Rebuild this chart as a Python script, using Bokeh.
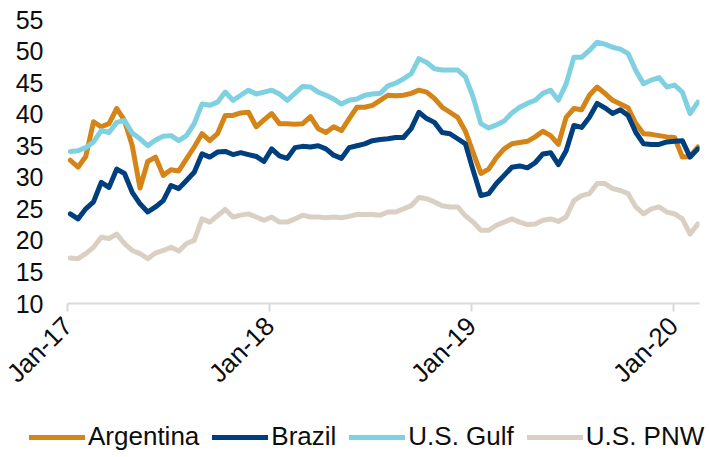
import math
import pandas as pd
from bokeh.plotting import figure
from bokeh.models import Legend, LegendItem, FixedTicker, DatetimeTickFormatter, Range1d
from bokeh.embed import file_html
from bokeh.resources import INLINE

# Biweekly observations (USD/t), Jan 2017 - Feb 2020
dates = pd.date_range("2017-01-06", periods=82, freq="14D")

argentina = [32.7, 31.6, 33.3, 38.8, 38.0, 38.5, 40.9, 39.0, 35.0, 28.3,
             32.5, 33.2, 30.3, 31.2, 31.0, 32.9, 34.8, 36.9, 35.8, 36.9,
             39.8, 39.8, 40.2, 40.3, 38.0, 39.1, 40.1, 38.5, 38.5, 38.4,
             38.5, 39.6, 37.7, 37.1, 38.0, 37.4, 39.3, 41.1, 41.1, 41.4,
             42.2, 43.0, 42.9, 43.0, 43.3, 43.8, 43.5, 42.5, 41.1, 40.3,
             39.5, 37.3, 33.9, 30.6, 31.3, 33.1, 34.5, 35.3, 35.5, 35.7,
             36.4, 37.3, 36.6, 35.2, 39.5, 40.9, 40.7, 43.0, 44.3, 43.3,
             42.2, 41.6, 41.0, 38.5, 36.9, 36.8, 36.6, 36.4, 36.3, 33.2,
             33.3, 34.8]

brazil = [24.2, 23.4, 25.0, 26.1, 29.2, 28.4, 31.3, 30.6, 27.6, 25.8,
          24.5, 25.3, 26.3, 28.7, 28.2, 29.5, 30.8, 33.7, 33.2, 34.0,
          34.1, 33.6, 33.9, 33.6, 33.3, 32.5, 34.5, 33.4, 33.0, 34.7,
          34.9, 34.8, 35.0, 34.5, 33.5, 33.0, 34.7, 35.0, 35.3, 35.8,
          36.0, 36.1, 36.3, 36.3, 37.7, 40.3, 39.3, 38.7, 37.1, 36.9,
          36.1, 35.3, 31.1, 27.1, 27.4, 29.0, 30.3, 31.6, 31.8, 31.5,
          32.3, 33.7, 33.9, 32.0, 34.2, 38.2, 37.9, 39.5, 41.7, 41.0,
          40.1, 40.7, 39.8, 37.1, 35.3, 35.2, 35.2, 35.6, 35.7, 35.8,
          33.2, 34.5]

us_gulf = [34.1, 34.2, 34.7, 35.6, 37.4, 37.1, 38.7, 39.0, 37.0, 36.1,
           35.0, 35.9, 36.5, 36.6, 35.8, 36.6, 38.5, 41.6, 41.4, 41.9,
           43.5, 42.2, 43.0, 43.8, 43.2, 43.5, 43.8, 43.2, 42.2, 43.3,
           44.4, 44.3, 43.5, 43.0, 42.4, 41.6, 42.2, 42.4, 43.0, 43.2,
           43.3, 44.5, 44.9, 45.6, 46.4, 48.8, 48.2, 47.2, 47.0, 47.0,
           47.0, 45.9, 42.7, 38.5, 37.8, 38.3, 38.9, 40.2, 41.1, 41.7,
           42.2, 43.3, 43.8, 42.2, 44.8, 49.0, 49.0, 50.1, 51.4, 51.1,
           50.6, 50.3, 49.6, 46.9, 44.8, 45.4, 45.8, 44.3, 44.6, 43.5,
           40.1, 41.9]

us_pnw = [17.2, 17.1, 17.9, 18.9, 20.5, 20.3, 21.0, 19.5, 18.4, 17.9,
          17.1, 18.0, 18.4, 18.9, 18.3, 19.5, 20.0, 23.4, 22.9, 23.9,
          24.9, 23.7, 24.0, 24.2, 23.7, 23.2, 23.7, 22.9, 22.9, 23.4,
          24.0, 23.7, 23.7, 23.6, 23.7, 23.6, 23.8, 24.1, 24.1, 24.1,
          24.0, 24.5, 24.5, 25.0, 25.5, 26.8, 26.6, 26.1, 25.5, 25.3,
          25.3, 23.9, 22.9, 21.6, 21.6, 22.4, 22.9, 23.4, 22.9, 22.5,
          22.6, 23.2, 23.4, 23.0, 23.7, 26.3, 27.1, 27.4, 29.0, 29.0,
          28.2, 27.9, 27.4, 25.3, 24.2, 25.0, 25.3, 24.5, 24.2, 23.4,
          21.0, 22.6]

series_names = ["Argentina", "Brazil", "U.S. Gulf", "U.S. PNW"]
series_colors = ["#D58418", "#003F7D", "#7FD0E0", "#D9D0C3"]
series_values = [argentina, brazil, us_gulf, us_pnw]

y_ticks = [10, 15, 20, 25, 30, 35, 40, 45, 50, 55]
x_tick_dates = ["2017-01-01", "2018-01-01", "2019-01-01", "2020-01-01"]

FONT = "Liberation Sans"
TEXT_COLOR = "#0d0d0d"
LINE_W = 5
X_START, X_END = pd.Timestamp("2017-01-01"), pd.Timestamp("2020-02-17")

p = figure(x_axis_type="datetime",
           frame_width=632, frame_height=284,
           min_border_left=67, min_border_right=6,
           min_border_top=19, min_border_bottom=112,
           x_range=Range1d(X_START, X_END),
           y_range=Range1d(10, 55),
           output_backend="svg", toolbar_location=None)

p.outline_line_color = None
p.xgrid.visible = False
p.ygrid.visible = False

for vals, color in zip(series_values, series_colors):
    p.line(dates, vals, line_color=color, line_width=LINE_W,
           line_join="round", line_cap="round")

# y axis
p.yaxis.ticker = FixedTicker(ticks=y_ticks)
p.yaxis.axis_line_color = None
p.yaxis.major_tick_line_color = None
p.yaxis.minor_tick_line_color = None
p.yaxis.major_tick_out = 0
p.yaxis.major_tick_in = 0
p.yaxis.major_label_standoff = 24
p.yaxis.major_label_text_font = FONT
p.yaxis.major_label_text_font_size = "25px"
p.yaxis.major_label_text_color = TEXT_COLOR

# x axis
fmt = "%b-%y"
p.xaxis.ticker = FixedTicker(ticks=[pd.Timestamp(d).timestamp() * 1000 for d in x_tick_dates])
p.xaxis.formatter = DatetimeTickFormatter(years=fmt, months=fmt, days=fmt, hours=fmt,
                                          minutes=fmt, seconds=fmt, milliseconds=fmt,
                                          microseconds=fmt, minsec=fmt, hourmin=fmt)
p.xaxis.axis_line_color = "#D9D9D9"
p.xaxis.axis_line_width = 2
p.xaxis.major_tick_line_color = "#D9D9D9"
p.xaxis.major_tick_line_width = 2
p.xaxis.minor_tick_line_color = None
p.xaxis.major_tick_out = 8
p.xaxis.major_tick_in = 0
p.xaxis.major_label_standoff = 10
p.xaxis.major_label_orientation = math.pi / 4
p.xaxis.major_label_text_font = FONT
p.xaxis.major_label_text_font_size = "26px"
p.xaxis.major_label_text_color = TEXT_COLOR

# legend strip below the chart (separate root, series drawn outside its visible range)
leg = figure(width=705, height=40, min_border=0,
             x_range=Range1d(pd.Timestamp("2000-01-01"), pd.Timestamp("2000-01-02")),
             y_range=Range1d(0, 1),
             x_axis_location=None, y_axis_location=None,
             output_backend="svg", toolbar_location=None)
leg.outline_line_color = None
leg.xgrid.visible = False
leg.ygrid.visible = False
leg_renderers = [leg.line(dates, vals, line_color=c, line_width=LINE_W, line_cap="round")
                 for vals, c in zip(series_values, series_colors)]
legend = Legend(items=[LegendItem(label=n, renderers=[r]) for n, r in zip(series_names, leg_renderers)],
                orientation="horizontal", location=(29, 3),
                padding=0, margin=0, spacing=13,
                glyph_width=56, glyph_height=30, label_height=30, label_standoff=3,
                label_text_font=FONT, label_text_font_size="26px", label_text_color=TEXT_COLOR,
                background_fill_alpha=0, border_line_alpha=0)
leg.add_layout(legend)

open("out.html", "w").write(file_html([p, leg], INLINE))
